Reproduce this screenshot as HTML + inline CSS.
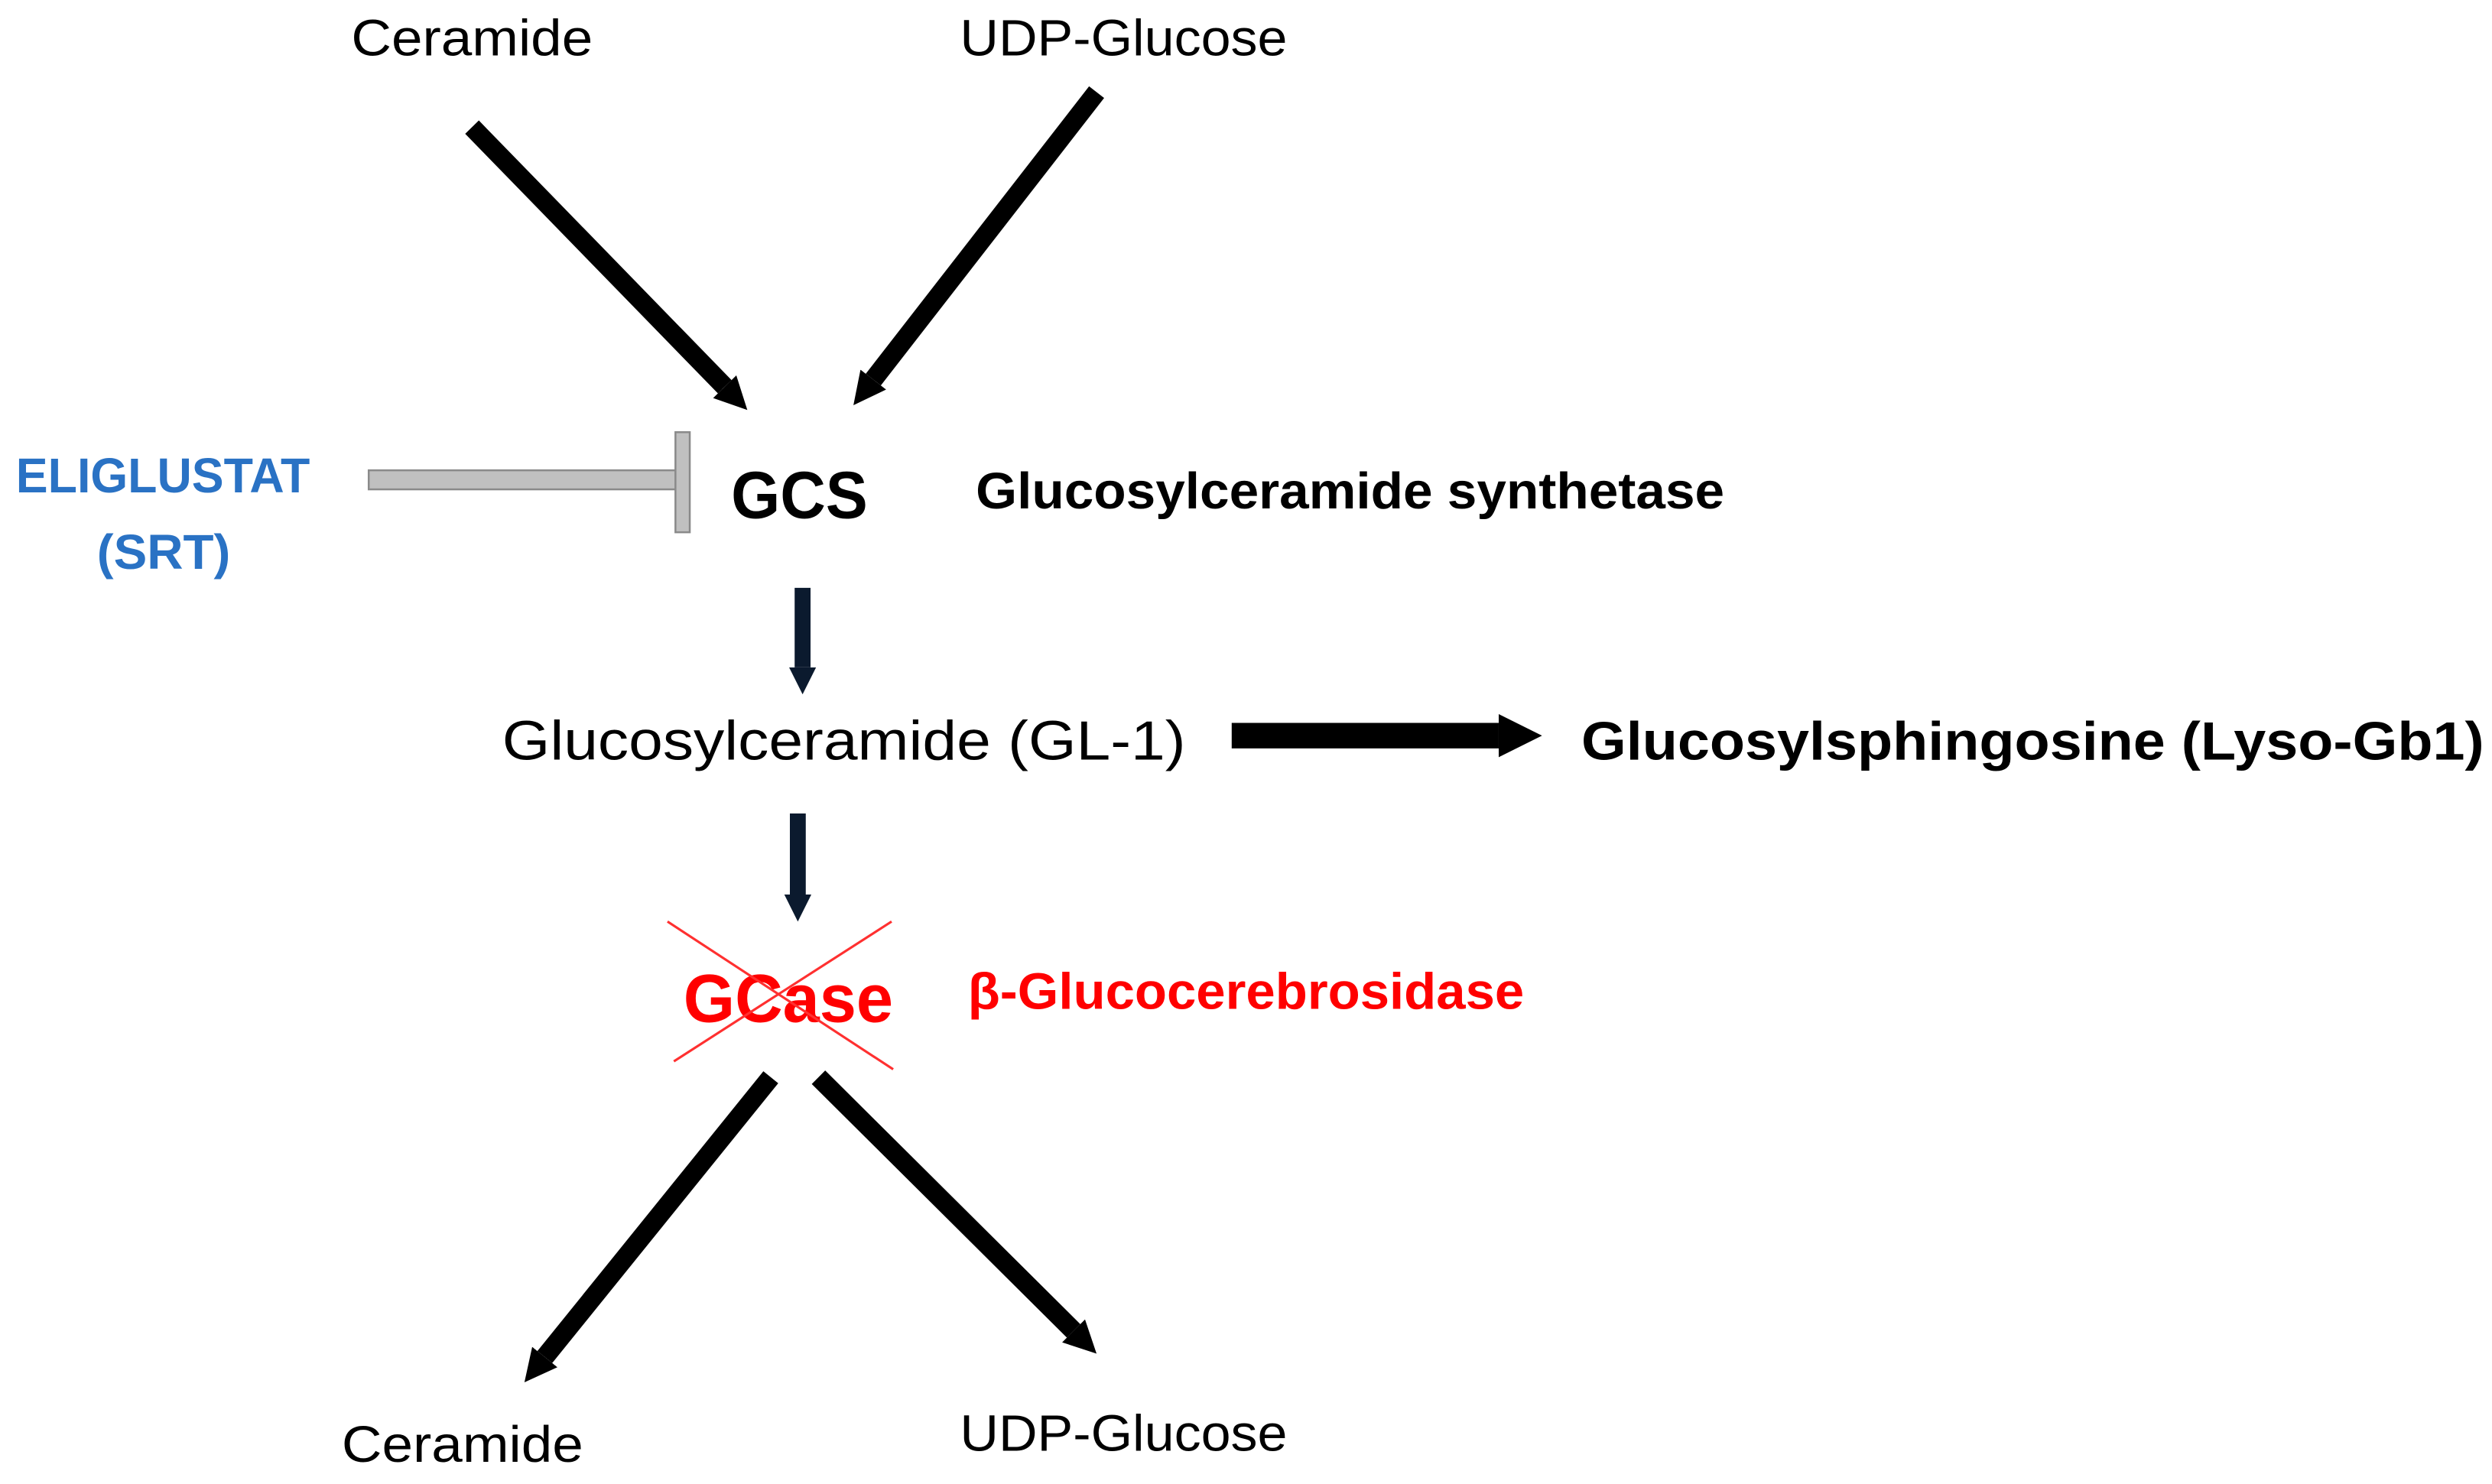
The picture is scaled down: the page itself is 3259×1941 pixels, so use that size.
<!DOCTYPE html>
<html><head><meta charset="utf-8"><style>html,body{margin:0;padding:0;background:#fff}svg{display:block}</style></head>
<body>
<svg width="3259" height="1941" viewBox="0 0 1568 934" preserveAspectRatio="none" xmlns="http://www.w3.org/2000/svg" font-family="'Liberation Sans', sans-serif">
<defs>
<marker id="h" viewBox="0 0 10 10" refX="0" refY="5" markerWidth="1.7" markerHeight="2.4" orient="auto" markerUnits="strokeWidth">
<path d="M0,0 L10,5 L0,10 z" fill="#000"/></marker>
<marker id="hn" viewBox="0 0 10 10" refX="0" refY="5" markerWidth="1.7" markerHeight="2.4" orient="auto" markerUnits="strokeWidth">
<path d="M0,0 L10,5 L0,10 z" fill="#0b1a2e"/></marker>
</defs>
<rect width="1568" height="934" fill="#fff"/>
<g font-size="32" fill="#000">
<text x="297" y="35" text-anchor="middle" textLength="152" lengthAdjust="spacingAndGlyphs">Ceramide</text>
<text x="707" y="35" text-anchor="middle" textLength="206" lengthAdjust="spacingAndGlyphs">UDP-Glucose</text>
<text x="291" y="920" text-anchor="middle" textLength="152" lengthAdjust="spacingAndGlyphs">Ceramide</text>
<text x="707" y="913" text-anchor="middle" textLength="206" lengthAdjust="spacingAndGlyphs">UDP-Glucose</text>
</g>
<line x1="297" y1="80" x2="456" y2="243.4" stroke="#000" stroke-width="12" marker-end="url(#h)"/>
<line x1="690" y1="58" x2="549.5" y2="238.9" stroke="#000" stroke-width="12" marker-end="url(#h)"/>
<g font-weight="bold" fill="#2a72c4" font-size="31">
<text x="10" y="310" textLength="185" lengthAdjust="spacingAndGlyphs">ELIGLUSTAT</text>
<text x="103" y="358" text-anchor="middle" textLength="84" lengthAdjust="spacingAndGlyphs">(SRT)</text>
</g>
<rect x="232" y="296" width="195" height="12" fill="#c0c0c0" stroke="#8a8a8a" stroke-width="1.2"/>
<rect x="425" y="272" width="9" height="63" fill="#c0c0c0" stroke="#8a8a8a" stroke-width="1.2"/>
<text x="460" y="326" font-size="42" font-weight="bold" textLength="86" lengthAdjust="spacingAndGlyphs">GCS</text>
<text x="614" y="320" font-size="32" font-weight="bold" textLength="471" lengthAdjust="spacingAndGlyphs">Glucosylceramide synthetase</text>
<line x1="505" y1="370" x2="505" y2="420" stroke="#0b1a2e" stroke-width="10" marker-end="url(#hn)"/>
<text x="316" y="478" font-size="35" textLength="430" lengthAdjust="spacingAndGlyphs">Glucosylceramide (GL-1)</text>
<line x1="775" y1="463" x2="943" y2="463" stroke="#000" stroke-width="16" marker-end="url(#h)"/>
<text x="995" y="478" font-size="34" font-weight="bold" textLength="568" lengthAdjust="spacingAndGlyphs">Glucosylsphingosine (Lyso-Gb1)</text>
<line x1="502" y1="512" x2="502" y2="563" stroke="#0b1a2e" stroke-width="10" marker-end="url(#hn)"/>
<text x="430" y="643" font-size="43" font-weight="bold" fill="#ff0000" textLength="132" lengthAdjust="spacingAndGlyphs">GCase</text>
<line x1="420" y1="580" x2="562" y2="673" stroke="#ff3030" stroke-width="1.5"/>
<line x1="561" y1="580" x2="424" y2="668" stroke="#ff3030" stroke-width="1.5"/>
<text x="609" y="635" font-size="32" font-weight="bold" fill="#ff0000" textLength="350" lengthAdjust="spacingAndGlyphs">β-Glucocerebrosidase</text>
<line x1="485" y1="678" x2="342.8" y2="854.1" stroke="#000" stroke-width="12" marker-end="url(#h)"/>
<line x1="515" y1="678" x2="675.5" y2="837.6" stroke="#000" stroke-width="12" marker-end="url(#h)"/>
</svg>
</body></html>
